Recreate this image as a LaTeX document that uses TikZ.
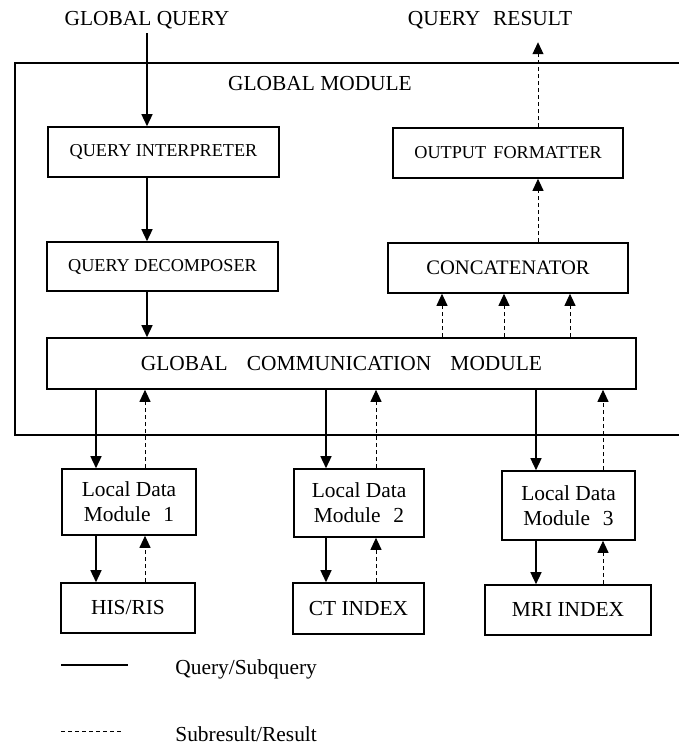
\documentclass[tikz,border=0pt]{standalone}
\usepackage{fontspec}
\setmainfont{Liberation Serif}
\usetikzlibrary{arrows.meta,calc}

\tikzstyle{every node}=[inner sep=2pt, font={\fontsize{10.7}{12.5}\selectfont}]
\tikzstyle{box}=[draw, line width=0.8pt, align=center]
\tikzstyle{caps}=[font={\fontsize{9.1}{11}\selectfont}]
\tikzstyle{qry}=[line width=0.7pt, -{Triangle[length=6pt,width=5.5pt]}]
\tikzstyle{res}=[line width=0.5pt, dash pattern=on 2pt off 1.5pt, -{Triangle[length=6pt,width=5.5pt]}]

\begin{document}
\begin{tikzpicture}[x=0.5pt,y=-0.5pt]
    \useasboundingbox (0,0) rectangle (679,745);
    % global module frame, runs off to the right
    \draw[line width=0.8pt] (690,63) -- (15,63) -- (15,435) -- (690,435);
    \node (gm) at (320,84) {GLOBAL MODULE};
    \node (gq) at (147,20) {GLOBAL QUERY};
    \node (qr) at (490,20) {QUERY\hspace{0.6em}RESULT};

    \node[box,caps,minimum width=115.5pt,minimum height=25pt] (qi) at (163.5,152) {QUERY INTERPRETER};
    \node[box,caps,minimum width=115pt,minimum height=25pt] (of) at (508,153) {OUTPUT\hspace{0.4em}FORMATTER};
    \node[box,caps,minimum width=115.5pt,minimum height=24.5pt] (qd) at (162.5,266.5) {QUERY DECOMPOSER};
    \node[box,font={\fontsize{10.3}{12}\selectfont},minimum width=120pt,minimum height=25pt] (conc) at (508,268) {CONCATENATOR};
    \node[box,minimum width=294.5pt,minimum height=25.5pt] (gcm) at (341.5,363.5) {GLOBAL\hspace{0.9em}COMMUNICATION\hspace{0.9em}MODULE};

    % local side
    \node[box,minimum width=67pt,minimum height=33pt] (ldm1) at (129,502) {Local Data\\Module\hspace{0.6em}1};
    \node[box,minimum width=65pt,minimum height=34pt] (ldm2) at (359,503) {Local Data\\Module\hspace{0.6em}2};
    \node[box,minimum width=66.5pt,minimum height=34.5pt] (ldm3) at (568.5,505.5) {Local Data\\Module\hspace{0.6em}3};
    \node[box,minimum width=67pt,minimum height=25pt] (his) at (128,608) {HIS/RIS};
    \node[box,minimum width=65.5pt,minimum height=25.5pt] (ct) at (358.5,608.5) {CT INDEX};
    \node[box,minimum width=83pt,minimum height=25pt] (mri) at (568,610) {MRI INDEX};

    % query path
    \draw[qry] (gq.south) -- (gq.south |- qi.north);
    \draw[qry] (qi.south -| gq.south) -- (qd.north -| gq.south);
    \draw[qry] (qd.south -| gq.south) -- (gcm.north -| gq.south);

    % result path
    \draw[res] ($(of.north)+(30,0)$) -- ($(qr.south -| of.north)+(30,9)$);
    \draw[res] ($(conc.north)+(30,0)$) -- ($(of.south)+(30,0)$);
    \foreach \d in {-66,-4,62}
        \draw[res] ($(conc.south |- gcm.north)+(\d,0)$) -- ($(conc.south)+(\d,0)$);

    \foreach \l/\m/\p/\q in {ldm1/his/-33/16, ldm2/ct/-33/17, ldm3/mri/-32.5/34.5} {
        \draw[qry] ($(\l.north |- gcm.south)+(\p,0)$) -- ($(\l.north)+(\p,0)$);
        \draw[res] ($(\l.north)+(\q,0)$) -- ($(\l.north |- gcm.south)+(\q,0)$);
        \draw[qry] ($(\l.south)+(\p,0)$) -- ($(\m.north -| \l.south)+(\p,0)$);
        \draw[res] ($(\m.north -| \l.south)+(\q,0)$) -- ($(\l.south)+(\q,0)$);
    }

    % legend
    \coordinate (qa) at (61,665);
    \coordinate (qb) at (128,665);
    \draw[line width=0.7pt] (qa) -- (qb);
    \node[anchor=west] (qtxt) at (171,669) {Query/Subquery};
    \coordinate (ra) at (61,731);
    \coordinate (rb) at (122,731);
    \draw[line width=0.5pt, dash pattern=on 2pt off 1.5pt] (ra) -- (rb);
    \node[anchor=west] (rtxt) at (171,734) {Subresult/Result};
\end{tikzpicture}
\end{document}
